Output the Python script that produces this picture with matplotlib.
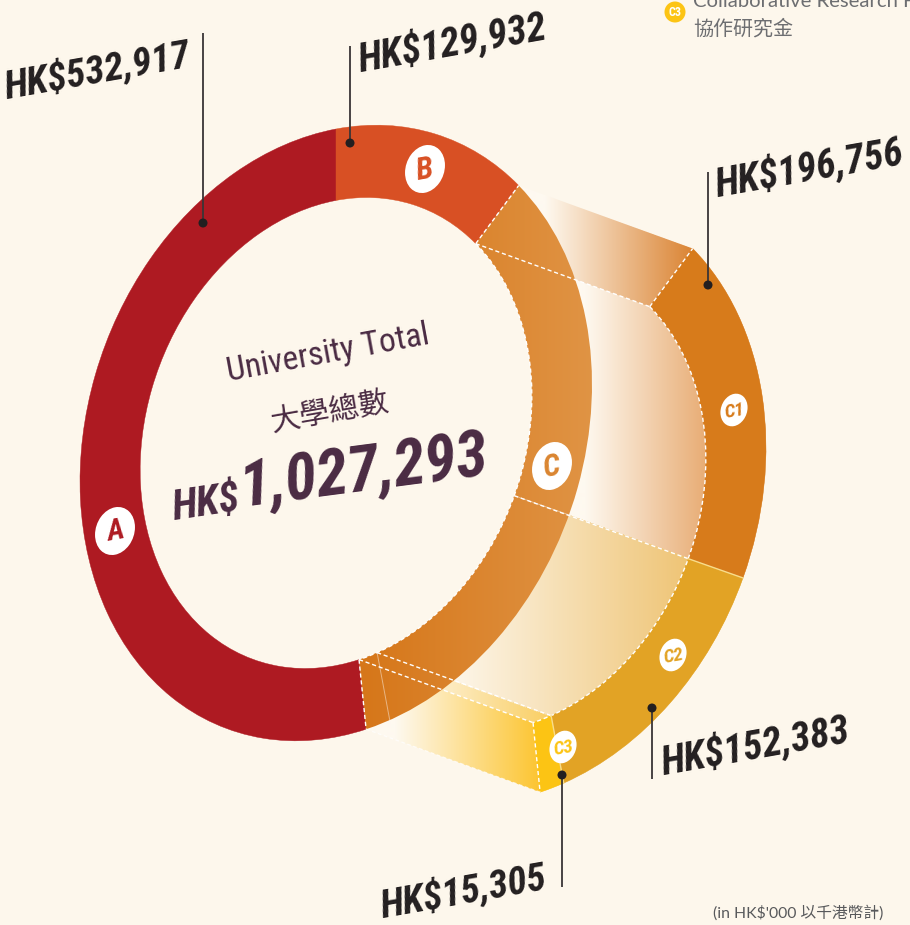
import numpy as np
import matplotlib
matplotlib.use("Agg")
import matplotlib.pyplot as plt
from matplotlib import font_manager as fm
from matplotlib.patches import Wedge, Arc, Circle, PathPatch, Polygon
from matplotlib.path import Path
from matplotlib.transforms import Affine2D
from matplotlib.colors import LinearSegmentedColormap

# ---------------- data ----------------
categories = ["A", "B", "C1", "C2", "C3"]
values = [532917, 129932, 196756, 152383, 15305]
value_labels = ["HK$532,917", "HK$129,932", "HK$196,756", "HK$152,383", "HK$15,305"]
badge_labels = ["A", "B", "C", "C1", "C2", "C3"]
total_label = "1,027,293"
title_en = "University Total"
title_zh = "大學總數"
legend_en = "Collaborative Research Fund"
legend_zh = "協作研究金"
footnote = "(in HK$'000 以千港幣計)"

# ---------------- style / layout ----------------
BG = "#FDF7EC"
LIGHT = "#FEF9F0"
seg_colors = {"A": "#AE1A22", "B": "#D85024", "C1": "#D77B1B",
              "C2": "#E2A325", "C3": "#FCC414", "C": "#DA8530"}
PLUM = "#4A2B43"
INK = "#231F20"

_avail = {f.name for f in fm.fontManager.ttflist}


def first(*names):
    for n in names:
        if n in _avail:
            return n
    return "DejaVu Sans"


COND = first("Liberation Sans Narrow", "Roboto Condensed", "Open Sans Condensed", "Lato")
REG = first("Lato", "Open Sans", "DejaVu Sans")
CJK = ["Noto Sans CJK TC", "DejaVu Sans"]

CX, CY = 336, 433              # ring centre (pixels)
RX, SHY, RY = 256, -48.4, 304  # perspective affine of the ring
INNER = 0.765
OFF = (174, 63)                # offset of the exploded C ring
ROT = 10

fig = plt.figure(figsize=(9.1, 9.25), dpi=100, facecolor=BG)
ax = fig.add_axes([0, 0, 1, 1])
ax.set_facecolor(BG)
ax.set_xlim(0, 910)
ax.set_ylim(925, 0)
renderer = fig.canvas.get_renderer()


def ring_aff(dx=0.0, dy=0.0, s=1.0, cx=CX, cy=CY):
    return Affine2D(np.array([[RX * s, 0, cx + dx], [SHY * s, RY * s, cy + dy], [0, 0, 1]]))


def ring_tf(dx=0.0, dy=0.0):
    return ring_aff(dx, dy) + ax.transData


def pt(r, th, t=0.0):
    a = np.deg2rad(th)
    return ring_aff(OFF[0] * t, OFF[1] * t).transform([[r * np.cos(a), r * np.sin(a)]])[0]


# angles, clockwise from 12 o'clock: B, C1, C2, C3, A
order = ["B", "C1", "C2", "C3", "A"]
vals = dict(zip(categories, values))
total = float(sum(values))
theta = {}
start = -90.0
for k in order:
    span = 360.0 * vals[k] / total
    theta[k] = (start, start + span)
    start += span
c_start, c_end = theta["C1"][0], theta["C3"][1]
W = 1 - INNER

XS = np.linspace(0, 910, 911)


def hgrad(x0, x1, c0, c1, clip, z):
    f = np.clip((XS - x0) / (x1 - x0), 0, 1)[None, :]
    cm = LinearSegmentedColormap.from_list("g", [c0, c1])
    im = ax.imshow(f, cmap=cm, vmin=0, vmax=1, extent=(0, 910, 925, 0),
                   aspect="auto", zorder=z, interpolation="bilinear")
    im.set_clip_path(clip)
    return im


def swept_patch(k, n=80):
    base = Wedge((0, 0), 1, theta[k][0], theta[k][1], width=W).get_path()
    paths = [ring_aff(OFF[0] * t, OFF[1] * t).transform_path(base)
             for t in np.linspace(0, 1, n)]
    return PathPatch(Path.make_compound_path(*paths), transform=ax.transData)


# ---------------- extruded (swept) C block ----------------
sweep_grad = {"C1": (585, 712, "#E7A96F"), "C2": (440, 700, "#EEC270"),
              "C3": (400, 545, "#FAD067")}
for i, k in enumerate(["C1", "C2", "C3"]):
    x0, x1, c1 = sweep_grad[k]
    hgrad(x0, x1, LIGHT, c1, swept_patch(k), 1 + 0.1 * i)

top_face = Polygon([pt(1, c_start, 0), pt(INNER, c_start, 0),
                    pt(INNER, c_start, 1), pt(1, c_start, 1)], transform=ax.transData)
hgrad(545, 692, LIGHT, "#DB8535", top_face, 1.5)
bot_face = Polygon([pt(INNER, c_end, 0), pt(1, c_end, 0),
                    pt(1, c_end, 1), pt(INNER, c_end, 1)], transform=ax.transData)
hgrad(395, 545, LIGHT, "#FCC32A", bot_face, 1.5)

# back ring C1, C2, C3
for k in ["C1", "C2", "C3"]:
    ax.add_patch(Wedge((0, 0), 1, theta[k][0], theta[k][1], width=W,
                       transform=ring_tf(*OFF), facecolor=seg_colors[k],
                       edgecolor=seg_colors[k], lw=0.3, zorder=3))

# main ring A, B
for k in ["A", "B"]:
    ax.add_patch(Wedge((0, 0), 1, theta[k][0], theta[k][1], width=W,
                       transform=ring_tf(), facecolor=seg_colors[k],
                       edgecolor=seg_colors[k], lw=0.3, zorder=3))

# main ring C with gradient
cw = Wedge((0, 0), 1, c_start, c_end, width=W, transform=ring_tf())
hgrad(365, 595, "#D6771A", "#E09445", cw, 3)

# ---------------- edges ----------------
dash = dict(color="white", lw=1.0, linestyle=(0, (3, 2)), zorder=6)
faint = dict(color="white", lw=0.7, alpha=0.45, zorder=6)
ax.add_patch(Arc((0, 0), 2 * INNER, 2 * INNER, theta1=c_start, theta2=c_end,
                 transform=ring_tf(), **dash))
ax.add_patch(Arc((0, 0), 2 * INNER, 2 * INNER, theta1=c_start, theta2=c_end,
                 transform=ring_tf(*OFF), **dash))
for th in (c_start, c_end):
    for t in (0, 1):
        p, q = pt(INNER, th, t), pt(1, th, t)
        ax.plot([p[0], q[0]], [p[1], q[1]], **dash)
for th in (c_start, theta["C2"][0], theta["C3"][0], c_end):
    p, q = pt(INNER, th, 0), pt(INNER, th, 1)
    ax.plot([p[0], q[0]], [p[1], q[1]], **dash)
p, q = pt(1, c_end, 0), pt(1, c_end, 1)
ax.plot([p[0], q[0]], [p[1], q[1]], color="white", lw=0.9, alpha=0.7,
        linestyle=(0, (3, 2)), zorder=6)
for th in (theta["C2"][0], theta["C3"][0]):
    p, q = pt(INNER, th, 0), pt(1, th, 0)
    ax.plot([p[0], q[0]], [p[1], q[1]], **faint)
    p, q = pt(INNER, th, 1), pt(1, th, 1)
    ax.plot([p[0], q[0]], [p[1], q[1]], color="#F8DC8C", lw=1.0, zorder=6)


# ---------------- text helper ----------------
def fit_text(x, y, s, width, rot, measure=None, **kw):
    probe_kw = {k: v for k, v in kw.items() if k in ("family", "fontweight", "style")}
    probe = ax.text(0, 0, measure or s, fontsize=20, **probe_kw)
    w = probe.get_window_extent(renderer).width
    probe.remove()
    return ax.text(x, y, s, fontsize=20 * width / w, rotation=rot,
                   rotation_mode="anchor", **kw)


# ---------------- badges ----------------
badge_pos = {"A": (115, 531), "B": (425, 169), "C": (552, 466),
             "C1": (734, 410), "C2": (673, 655), "C3": (563, 747)}
for lab in badge_labels:
    x, y = badge_pos[lab]
    big = len(lab) == 1
    s = 0.078 if big else 0.053
    ax.add_patch(Circle((0, 0), 1, transform=ring_aff(s=s, cx=x, cy=y) + ax.transData,
                        facecolor="white", edgecolor="none", zorder=7))
    fit_text(x, y + 1, lab, 17 if big else 20, ROT, ha="center", va="center",
             fontweight="bold", style="italic", family=COND,
             color=seg_colors[lab], zorder=8)

# ---------------- leaders + value labels ----------------
dots = {"A": (203, 223), "B": (350, 143), "C1": (708, 285), "C2": (652, 708), "C3": (562, 775)}
line_end = {"A": 33, "B": 46, "C1": 172, "C2": 779, "C3": 887}
text_pos = {"A": (7, 98), "B": (361, 72), "C1": (718, 197), "C2": (664, 775), "C3": (383, 917)}
text_w = {"A": 188, "B": 190, "C1": 190, "C2": 190, "C3": 168}
for k, lab in zip(categories, value_labels):
    x, y = dots[k]
    ax.plot([x, x], [y, line_end[k]], color="#3A3536", lw=1.3, zorder=9,
            solid_capstyle="butt")
    ax.add_patch(Circle((x, y), 4.5, facecolor=INK, edgecolor="none", zorder=10))
    tx, ty = text_pos[k]
    fit_text(tx, ty, lab, text_w[k], ROT, ha="left", va="baseline",
             fontweight="bold", style="italic", family=COND, color=INK, zorder=10)

# ---------------- centre text ----------------
fit_text(330, 362, title_en, 205, 10.5, ha="center", va="baseline",
         family=COND, color=PLUM, zorder=10)
fit_text(331, 420, title_zh, 120, 10, ha="center", va="baseline",
         family=CJK, color=PLUM, zorder=10)
fit_text(174, 520, "HK$", 68, 8.5, ha="left", va="baseline", fontweight="bold",
         style="italic", family=COND, color=PLUM, zorder=10)
fit_text(242, 506, total_label, 250, 7.5, ha="left", va="baseline",
         fontweight="bold", style="italic", family=COND, color=PLUM, zorder=10)

# ---------------- legend fragment + footnote ----------------
ax.add_patch(Circle((675, 12), 10.5, facecolor=seg_colors["C3"], edgecolor="none", zorder=10))
fit_text(675, 12.5, "C3", 13, 0, ha="center", va="center", fontweight="bold",
         family=COND, color="white", zorder=11)
fit_text(693, 7, legend_en, 205, 0, measure="Collaborative Research",
         ha="left", va="baseline", family=REG, color="#6D6E71", zorder=10)
fit_text(693, 35, legend_zh, 100, 0, ha="left", va="baseline",
         family=CJK, color="#6D6E71", zorder=10)
fit_text(883, 913, footnote, 170, 0, ha="right", va="center",
         family=[REG, "Noto Sans CJK TC"], color="#58595B", zorder=10)

ax.set_xlim(0, 910)
ax.set_ylim(925, 0)
ax.axis("off")
fig.savefig("out.png", dpi=100, facecolor=BG)
